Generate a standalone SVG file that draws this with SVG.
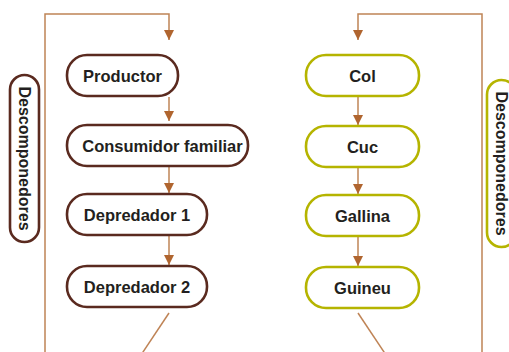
<svg xmlns="http://www.w3.org/2000/svg" width="509" height="352" viewBox="0 0 509 352">
<defs>
<marker id="ah" viewBox="0 0 10 10" refX="10" refY="5" markerWidth="10" markerHeight="10" markerUnits="userSpaceOnUse" orient="auto">
<path d="M0,0 L10,5 L0,10 Z" fill="#b0652f"/>
</marker>
</defs>
<style>
.c{fill:none;stroke:#bf8456;stroke-width:1.5}
.a{marker-end:url(#ah)}
.b1{fill:#fff;stroke:#5a2a1f;stroke-width:2.6}
.b2{fill:#fff;stroke:#b5b400;stroke-width:2.6}
text{font-family:"Liberation Sans",Arial,sans-serif;font-weight:bold;font-size:16.5px;fill:#231f20;text-anchor:middle;dominant-baseline:central}
.v{font-size:16px}
</style>
<rect width="509" height="352" fill="#fff"/>
<g id="connectors">
<path class="c a" d="M45,352 V14 H169 V40"/>
<path class="c a" d="M169,97 V121"/>
<path class="c a" d="M169,167 V193"/>
<path class="c a" d="M169,236 V265"/>
<path class="c" d="M169,313 L141,355"/>
<path class="c a" d="M482,352 V14 H358 V40"/>
<path class="c a" d="M358,97 V125"/>
<path class="c a" d="M358,168 V194"/>
<path class="c a" d="M358,237 V266"/>
<path class="c" d="M358,313 L386,355"/>
</g>
<g id="descomponedores-left">
<rect class="b1" x="10" y="75" width="29" height="167" rx="14.5"/>
<text class="v" transform="translate(24.5,158.5) rotate(90)">Descomponedores</text>
</g>
<g id="productor">
<rect class="b1" x="67" y="55" width="111" height="41" rx="20"/>
<text x="122.5" y="76">Productor</text>
</g>
<g id="consumidor">
<rect class="b1" x="67" y="125" width="181" height="41" rx="20"/>
<text x="162.5" y="146">Consumidor familiar</text>
</g>
<g id="depredador1">
<rect class="b1" x="67" y="194" width="140" height="41" rx="20"/>
<text x="137" y="215">Depredador 1</text>
</g>
<g id="depredador2">
<rect class="b1" x="67" y="266" width="140" height="41" rx="20"/>
<text x="137" y="287">Depredador 2</text>
</g>
<g id="col">
<rect class="b2" x="306" y="55" width="113" height="41" rx="20"/>
<text x="362.5" y="76">Col</text>
</g>
<g id="cuc">
<rect class="b2" x="306" y="126" width="113" height="41" rx="20"/>
<text x="362.5" y="147">Cuc</text>
</g>
<g id="gallina">
<rect class="b2" x="306" y="195" width="113" height="41" rx="20"/>
<text x="362.5" y="216">Gallina</text>
</g>
<g id="guineu">
<rect class="b2" x="306" y="267" width="113" height="41" rx="20"/>
<text x="362.5" y="288">Guineu</text>
</g>
<g id="descomponedores-right">
<rect class="b2" x="487" y="80" width="29" height="167" rx="14.5"/>
<text class="v" transform="translate(501,163.5) rotate(90)">Descomponedores</text>
</g>
</svg>
